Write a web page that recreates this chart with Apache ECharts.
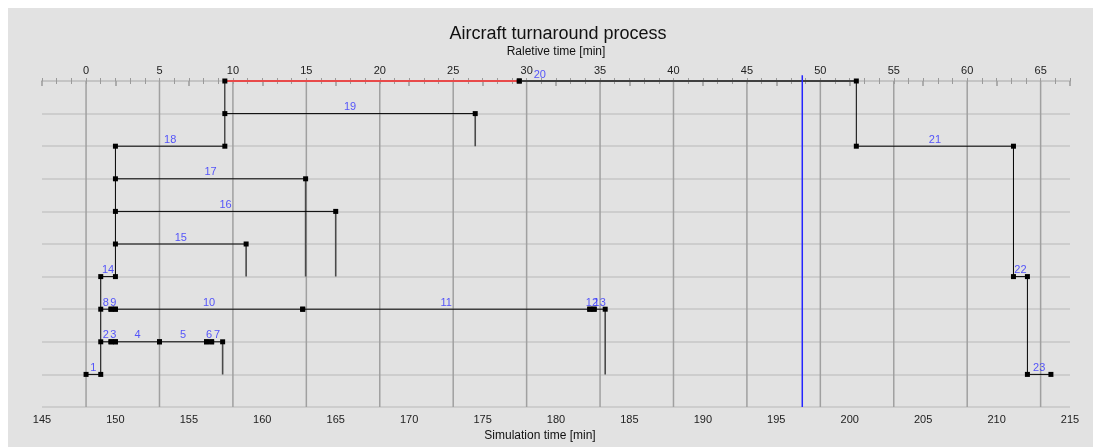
<!DOCTYPE html>
<html>
<head>
<meta charset="utf-8">
<script src="https://cdn.jsdelivr.net/npm/echarts@6/dist/echarts.min.js"></script>
<style>
  html, body { margin: 0; padding: 0; background: #ffffff; }
  #chart { position: absolute; left: 8px; top: 8px; width: 1085px; height: 439px; background: #e2e2e2; }
</style>
</head>
<body>
<div id="chart"></div>
<script>
// ---- data (relative time in minutes) ----
const elementIds    = [1, 2, 3, 4, 5, 6, 7, 8, 9, 10, 11, 12, 13, 14, 15, 16, 17, 18, 19, 20, 21, 22, 23];
const elementRows   = [9, 8, 8, 8, 8, 8, 8, 7, 7, 7, 7, 7, 7, 6, 5, 4, 3, 2, 1, 0, 2, 6, 9];
const elementStarts = [0, 1, 1.7, 2, 5, 8.2, 8.55, 1, 1.7, 2, 14.75, 34.3, 34.6, 1, 2, 2, 2, 2, 9.45, 29.5, 52.45, 63.15, 64.1];
const elementEnds   = [1, 1.7, 2, 5, 8.2, 8.55, 9.3, 1.7, 2, 14.75, 34.3, 34.6, 35.35, 2, 10.9, 17.0, 14.95, 9.45, 26.5, 52.45, 63.15, 64.1, 65.7];
// connectors: element id whose end links to a target row
const connectorFrom = [1, 14, 7, 13, 15, 16, 17, 18, 19, 20, 21, 22];
const connectorTo   = [6, 2, 9, 9, 6, 6, 6, 0, 2, 2, 6, 9];
// waiting (critical) part before element 20
const waitElement = 20;
const waitStart = 9.45;
// axes
const relativeZero = 148;          // simulation time at relative time 0
const simMin = 145, simMax = 215;
const relTickLabels = [0, 5, 10, 15, 20, 25, 30, 35, 40, 45, 50, 55, 60, 65];
const currentSimTime = 196.77;
const rowCount = 10;

const relMin = simMin - relativeZero, relMax = simMax - relativeZero;
const FONT = 'Liberation Sans, Arial, sans-serif';
const series = [];

// vertical grid lines at relative tick labels
relTickLabels.forEach(v => {
  series.push({
    type: 'line', xAxisIndex: 1, silent: true, symbol: 'none', z: 1,
    data: [[v, 0], [v, rowCount]],
    lineStyle: { color: '#a0a0a0', width: 1.5 }
  });
});

// connectors
connectorFrom.forEach((id, k) => {
  const i = elementIds.indexOf(id);
  const x = elementEnds[i];
  const toRow = connectorTo[k];
  const linked = elementIds.some((_, j) => elementRows[j] === toRow && Math.abs(elementStarts[j] - x) < 0.05)
               || (toRow === elementRows[elementIds.indexOf(waitElement)] && Math.abs(waitStart - x) < 0.05);
  series.push({
    type: 'line', xAxisIndex: 1, silent: true, symbol: 'none', z: 3,
    data: [[x, elementRows[i]], [x, toRow]],
    lineStyle: linked ? { color: '#000000', width: 1 } : { color: '#4a4a4a', width: 1.6 }
  });
});

// waiting part (red)
{
  const i = elementIds.indexOf(waitElement);
  series.push({
    type: 'line', xAxisIndex: 1, silent: true, symbol: 'rect', symbolSize: 5, z: 4,
    data: [[waitStart, elementRows[i]], [elementStarts[i], elementRows[i]]],
    itemStyle: { color: '#000000' },
    lineStyle: { color: '#e84a4a', width: 2.2 }
  });
}

// elements
elementIds.forEach((id, i) => {
  const isWaitEl = id === waitElement;
  series.push({
    type: 'line', xAxisIndex: 1, silent: true, symbol: 'rect', symbolSize: 5, z: 5,
    data: [[elementStarts[i], elementRows[i]], [elementEnds[i], elementRows[i]]],
    itemStyle: { color: '#000000' },
    lineStyle: isWaitEl ? { color: '#404040', width: 2.2 } : { color: '#000000', width: 1 }
  });
});

// element labels
series.push({
  type: 'scatter', xAxisIndex: 1, silent: true, symbolSize: 0, z: 6,
  data: elementIds.map((id, i) => {
    const x = id === waitElement ? elementStarts[i] + 1.4 : (elementStarts[i] + elementEnds[i]) / 2;
    return { value: [x, elementRows[i]], name: String(id) };
  }),
  label: {
    show: true, position: 'top', distance: 1,
    formatter: p => p.name,
    color: '#2f2fff', fontSize: 11, fontFamily: FONT
  }
});

// current time
series.push({
  type: 'line', xAxisIndex: 0, silent: true, symbol: 'none', z: 7, clip: false,
  data: [[currentSimTime, -0.18], [currentSimTime, rowCount]],
  lineStyle: { color: '#2424ff', width: 1.5 }
});

const chart = echarts.init(document.getElementById('chart'));
chart.setOption({
  backgroundColor: '#e2e2e2',
  animation: false,
  title: {
    text: 'Aircraft turnaround process', left: 545, top: 12, textAlign: 'center',
    textStyle: { fontFamily: FONT, fontSize: 18, fontWeight: 'normal', color: '#111' }
  },
  grid: { left: 34, right: 23, top: 73, bottom: 31 },
  xAxis: [
    {
      type: 'value', position: 'bottom', min: simMin, max: simMax, interval: 5,
      name: 'Simulation time [min]', nameLocation: 'middle', nameGap: 23,
      nameTextStyle: { fontFamily: FONT, fontSize: 12, color: '#111', padding: [0, 32, 0, 0] },
      axisLine: { show: true, lineStyle: { color: '#c4c4c4', width: 2 } },
      axisTick: { show: true, length: 5, lineStyle: { color: '#9a9a9a', width: 1.5 } },
      minorTick: { show: true, splitNumber: 5, length: 3, lineStyle: { color: '#9a9a9a', width: 1 } },
      axisLabel: { fontFamily: FONT, fontSize: 11, color: '#222', margin: 7 },
      splitLine: { show: false }
    },
    {
      type: 'value', position: 'top', min: relMin, max: relMax, interval: 1,
      name: 'Raletive time [min]', nameLocation: 'middle', nameGap: 23,
      nameTextStyle: { fontFamily: FONT, fontSize: 12, color: '#111' },
      axisLine: { show: true, lineStyle: { color: '#c4c4c4', width: 2 } },
      axisTick: { show: true, length: 3, lineStyle: { color: '#9a9a9a', width: 1 } },
      axisLabel: {
        fontFamily: FONT, fontSize: 11, color: '#222', margin: 5,
        formatter: v => (relTickLabels.indexOf(v) >= 0 ? String(v) : '')
      },
      splitLine: { show: false }
    }
  ],
  yAxis: {
    type: 'value', inverse: true, min: 0, max: rowCount, interval: 1,
    axisLine: { show: false }, axisTick: { show: false }, axisLabel: { show: false },
    splitLine: { show: true, lineStyle: { color: '#c6c6c6', width: 1.5 } }
  },
  series: series
});
</script>
</body>
</html>
